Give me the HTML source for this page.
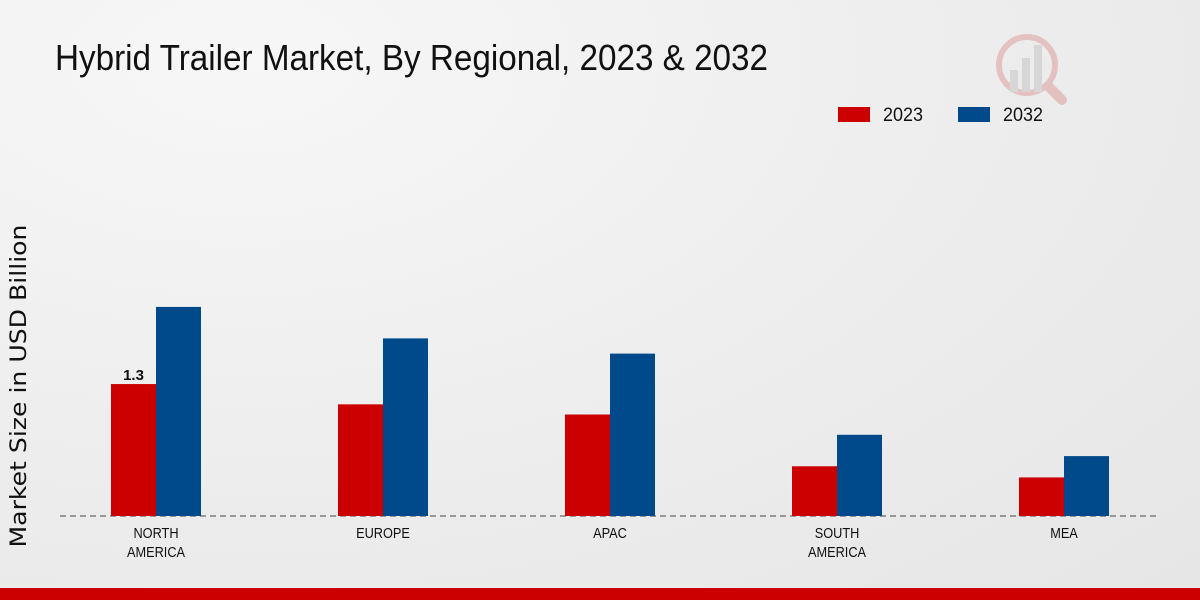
<!DOCTYPE html>
<html><head><meta charset="utf-8"><style>
html,body{margin:0;padding:0}
body{width:1200px;height:600px;overflow:hidden;background:radial-gradient(ellipse at 20% 10%,#f7f7f7 0%,#ececec 60%,#e6e6e6 100%);font-family:"Liberation Sans",sans-serif;position:relative}
</style></head><body>
<svg width="1200" height="600" style="position:absolute;left:0;top:0">
<text x="55" y="70" font-size="36" textLength="713" lengthAdjust="spacingAndGlyphs" fill="#111">Hybrid Trailer Market, By Regional, 2023 &amp; 2032</text>
<g>
<rect x="838" y="107" width="32" height="15" fill="#cc0000"/>
<text x="883" y="121" font-size="19" textLength="40" lengthAdjust="spacingAndGlyphs" fill="#111">2023</text>
<rect x="958" y="107" width="32" height="15" fill="#004a8c"/>
<text x="1003" y="121" font-size="19" textLength="40" lengthAdjust="spacingAndGlyphs" fill="#111">2032</text>
</g>
<text transform="translate(26,386) rotate(-90)" text-anchor="middle" font-family="'DejaVu Sans',sans-serif" font-size="22" textLength="323" lengthAdjust="spacingAndGlyphs" fill="#111">Market Size in USD Billion</text>
<line x1="60" y1="516" x2="1160" y2="516" stroke="#444" stroke-dasharray="6,4"/>
<g id="bars"></g>
<g opacity="0.25">
<circle cx="1027" cy="65" r="28" fill="none" stroke="#c44" stroke-width="6"/>
<line x1="1048" y1="86" x2="1062" y2="100" stroke="#c44" stroke-width="10" stroke-linecap="round"/>
<rect x="1010" y="70" width="8" height="22" fill="#999"/><rect x="1022" y="58" width="8" height="34" fill="#999"/><rect x="1034" y="45" width="8" height="47" fill="#999"/>
</g>
<rect x="0" y="588" width="1200" height="12" fill="#cc0000"/>
</svg>
<script>
const categories=["NORTH|AMERICA","EUROPE","APAC","SOUTH|AMERICA","MEA"];
const values2023=[1.3,1.1,1.0,0.49,0.38];
const values2032=[2.06,1.75,1.6,0.8,0.59];
const baseY=516, scale=101.5, firstCenter=156, step=227, barW=45;
const ns="http://www.w3.org/2000/svg";
const g=document.getElementById('bars');
function y(v){return baseY-v*scale;}
function xc(i){return firstCenter+i*step;}
categories.forEach((c,i)=>{
  const r=document.createElementNS(ns,'rect');
  r.setAttribute('x',xc(i)-barW);r.setAttribute('y',y(values2023[i]));r.setAttribute('width',barW);r.setAttribute('height',baseY-y(values2023[i]));r.setAttribute('fill','#cc0000');
  
  
  g.appendChild(r);
  const b=document.createElementNS(ns,'rect');
  b.setAttribute('x',xc(i));b.setAttribute('y',y(values2032[i]));b.setAttribute('width',barW);b.setAttribute('height',baseY-y(values2032[i]));b.setAttribute('fill','#004a8c');
  
  
  g.appendChild(b);
  c.split('|').forEach((line,k)=>{
    const t=document.createElementNS(ns,'text');
    t.setAttribute('transform','translate('+xc(i)+','+(538+k*19)+') scale(0.85,1)');
    t.setAttribute('text-anchor','middle');
    t.setAttribute('font-size','15');t.setAttribute('fill','#111');
    t.textContent=line;
    
    
    g.appendChild(t);
  });
});
const lbl=document.createElementNS(ns,'text');
lbl.setAttribute('x',xc(0)-barW/2);lbl.setAttribute('y',y(values2023[0])-4);lbl.setAttribute('text-anchor','middle');
lbl.setAttribute('font-size','15');lbl.setAttribute('font-weight','bold');lbl.setAttribute('fill','#111');
lbl.textContent=String(values2023[0]);


g.appendChild(lbl);
</script>
</body></html>
